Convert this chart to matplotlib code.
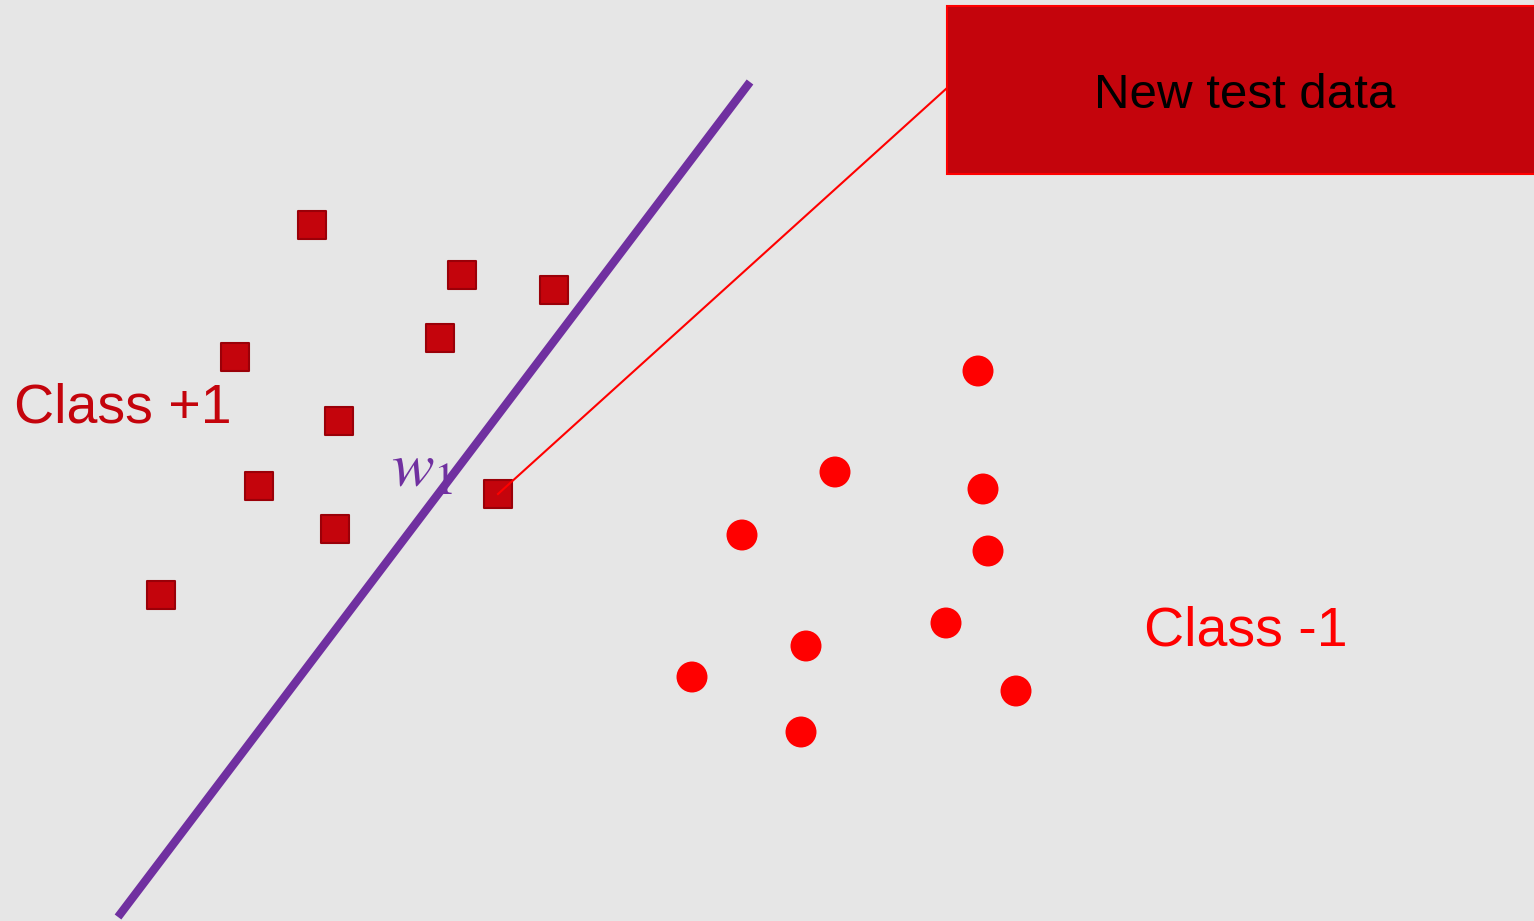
import matplotlib
matplotlib.use("Agg")
import matplotlib.pyplot as plt
from matplotlib.patches import Rectangle

# Data (pixel-space coordinates of the diagram)
class_pos_x = [312, 462, 554, 440, 235, 339, 259, 335, 161, 498]
class_pos_y = [225, 275, 290, 338, 357, 421, 486, 529, 595, 494]
class_neg_x = [978, 835, 983, 742, 988, 946, 806, 692, 1016, 801]
class_neg_y = [371, 472, 489, 535, 551, 623, 646, 677, 691, 732]
boundary_x = [118, 750]
boundary_y = [917, 82]
test_point = (498, 494)
label_anchor = (947, 88)

W, H = 1534, 921
fig = plt.figure(figsize=(W / 100, H / 100), dpi=100)
fig.patch.set_facecolor("#e6e6e6")
ax = fig.add_axes([0, 0, 1, 1])
ax.set_facecolor("#e6e6e6")
ax.set_xlim(0, W)
ax.set_ylim(H, 0)
ax.axis("off")

# decision boundary
ax.plot(boundary_x, boundary_y, color="#7030a0", lw=6, solid_capstyle="butt", zorder=2)

# class +1 squares
ax.scatter(class_pos_x, class_pos_y, marker="s", s=20 ** 2, c="#c4040c",
           edgecolors="#9a0008", linewidths=1.5, zorder=3)
# class -1 circles
ax.scatter(class_neg_x, class_neg_y, marker="o", s=22.3 ** 2, c="#ff0000",
           edgecolors="none", zorder=3)

# connector line
ax.plot([test_point[0], label_anchor[0]], [test_point[1], label_anchor[1]],
        color="#ff0000", lw=1.5, zorder=4)

# callout box
ax.add_patch(Rectangle((947, 6), 620, 168, facecolor="#c4040c", edgecolor="#ff0000",
                       lw=1.5, zorder=5))
ax.text(1245, 108, "New test data", fontsize=35.5, family="Liberation Sans",
        color="black", ha="center", va="baseline", zorder=6)

ax.text(14, 422, "Class +1", fontsize=40, family="Liberation Sans",
        color="#c4040c", ha="left", va="baseline")
ax.text(1144, 645, "Class -1", fontsize=40, family="Liberation Sans",
        color="#ff0000", ha="left", va="baseline")

plt.rcParams["mathtext.fontset"] = "stix"
ax.text(391, 487, r"$w_1$", fontsize=46, color="#7030a0", ha="left", va="baseline",
        zorder=1)

fig.savefig("out.png", dpi=100, facecolor=fig.get_facecolor())
